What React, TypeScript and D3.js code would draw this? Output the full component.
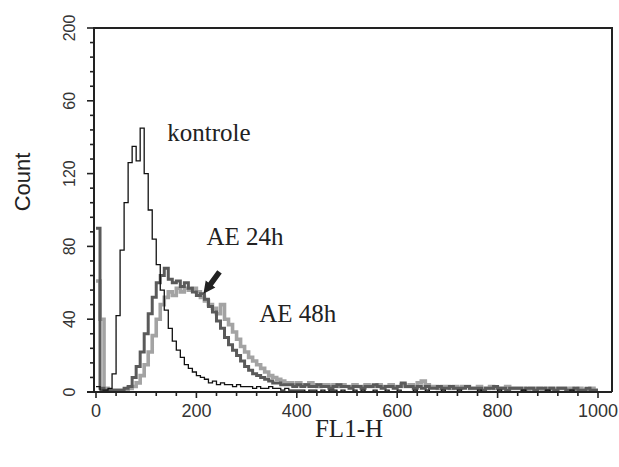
import React from "react";
import * as d3 from "d3";

const binWidth = 8;

const kontrole = [
  3, 1, 1, 2, 10, 42, 78, 104, 126, 135,
  127, 145, 120, 100, 84, 70, 56, 45, 35, 28,
  23, 19, 15, 13, 11, 9, 8, 7, 5, 6,
  4, 5, 4, 4, 3, 4, 3, 3, 3, 2,
  3, 2, 2, 3, 2, 2, 1, 2, 1, 1,
  1, 1, 0, 1, 1, 0, 1, 0, 1, 1, 0, 1, 0, 0, 1, 0, 1, 0, 0, 1,
  0, 0, 1, 0, 0, 1, 0, 0, 0, 1, 0, 0, 1, 0, 0, 0, 1, 0, 0, 0,
  1, 0, 0, 0, 0, 1, 0, 0, 0, 0, 1, 0, 0, 0, 0, 0, 1, 0, 0, 0,
  0, 0, 1, 0, 0, 0, 0, 0, 1, 0, 0, 0, 0, 0, 0,
];

const ae24 = [
  90, 2, 1, 1, 1, 1, 1, 2, 3, 8,
  14, 22, 32, 43, 52, 60, 64, 68, 62, 60,
  61, 58, 60, 57, 55, 53, 54, 51, 47, 44,
  39, 35, 30, 26, 23, 20, 17, 14, 12, 10,
  9, 8, 7, 6, 5, 5, 4, 4, 4, 3,
  4, 3, 4, 3, 3, 4, 3, 3, 2, 3, 4, 3, 3, 2, 3, 3, 2, 3, 3, 4,
  3, 2, 3, 3, 2, 3, 5, 3, 3, 2, 3, 2, 3, 2, 2, 3, 2, 2, 3, 2,
  2, 2, 3, 2, 2, 2, 1, 2, 2, 3, 2, 2, 1, 2, 2, 2, 1, 2, 2, 1,
  2, 2, 1, 2, 1, 2, 2, 1, 1, 2, 1, 1, 2, 1, 1,
];

const ae48 = [
  61, 40, 2, 1, 1, 1, 1, 1, 2, 3,
  5, 9, 15, 22, 31, 40, 48, 52, 55, 53,
  57, 55, 57, 56, 57, 55, 52, 50, 48, 46,
  43, 48, 40, 37, 33, 29, 25, 22, 19, 17,
  15, 13, 11, 9, 8, 7, 6, 5, 5, 4,
  5, 4, 4, 5, 4, 3, 4, 4, 3, 4, 3, 4, 3, 3, 4, 3, 3, 4, 3, 3,
  4, 3, 3, 4, 3, 3, 4, 3, 4, 3, 5, 6, 4, 3, 3, 2, 3, 3, 2, 3,
  2, 3, 3, 2, 2, 3, 2, 2, 3, 2, 2, 2, 3, 2, 2, 2, 2, 1, 2, 2,
  2, 1, 2, 2, 1, 2, 2, 1, 2, 1, 2, 1, 1, 2, 1,
];

const xTickValues = [0, 200, 400, 600, 800, 1000];
const xTickLabels = ["0", "200", "400", "600", "800", "1000"];
const yTickValues = [0, 40, 80, 120, 160, 200];
const yTickLabels = ["0", "40", "80", "120", "60", "200"];

const annotations = [
  { text: "kontrole", x: 142, y: 138 },
  { text: "AE 24h", x: 220, y: 81 },
  { text: "AE 48h", x: 325, y: 38.5 },
];
const arrowTip = { x: 214, y: 54 };
const arrowTail = { x: 246, y: 66 };

const W = 619;
const H = 467;
const left = 94;
const right = 612;
const top = 28;
const bottom = 392;

export default function App() {
  const x = d3.scaleLinear().domain([0, 1000]).range([96, 598]);
  const y = d3.scaleLinear().domain([0, 200]).range([bottom, top]);

  const toPts = (arr: number[]) => {
    const pts: [number, number][] = arr.map((v, i) => [i * binWidth, v]);
    pts.push([arr.length * binWidth, arr[arr.length - 1]]);
    return pts;
  };
  const line = d3
    .line<[number, number]>()
    .x((d) => x(d[0]))
    .y((d) => y(d[1]))
    .curve(d3.curveStepAfter);

  const xMinor = d3.range(0, 1001, 40);
  const yMinor = d3.range(0, 201, 8);

  // arrow geometry
  const tx = x(arrowTip.x), ty = y(arrowTip.y);
  const sx = x(arrowTail.x), sy = y(arrowTail.y);
  const dx = tx - sx, dy = ty - sy;
  const len = Math.hypot(dx, dy);
  const ux = dx / len, uy = dy / len;
  const px = -uy, py = ux;
  const headLen = 12, headW = 6, shaftW = 2.8;
  const bx = tx - ux * headLen, by = ty - uy * headLen;
  const arrowPts = [
    [sx + px * shaftW, sy + py * shaftW],
    [bx + px * shaftW, by + py * shaftW],
    [bx + px * headW, by + py * headW],
    [tx, ty],
    [bx - px * headW, by - py * headW],
    [bx - px * shaftW, by - py * shaftW],
    [sx - px * shaftW, sy - py * shaftW],
  ]
    .map((p) => p.join(","))
    .join(" ");

  return (
    <svg
      width={W}
      height={H}
      style={{ position: "absolute", left: 0, top: 0, background: "#fff" }}
    >
      <rect x={0} y={0} width={W} height={H} fill="#fff" />
      {/* series */}
      <path d={line(toPts(ae48)) || ""} fill="none" stroke="#a3a3a3" strokeWidth={3.6} strokeLinejoin="miter" />
      <path d={line(toPts(ae24)) || ""} fill="none" stroke="#5a5a5a" strokeWidth={3} strokeLinejoin="miter" />
      <path d={line(toPts(kontrole)) || ""} fill="none" stroke="#111" strokeWidth={1.3} />

      {/* frame */}
      <path
        d={`M${left},${bottom}V${top}H${right}V${bottom}`}
        fill="none"
        stroke="#222"
        strokeWidth={2}
      />
      <line x1={87} x2={right} y1={bottom} y2={bottom} stroke="#222" strokeWidth={2} />

      {/* y ticks */}
      {yMinor.map((v) => {
        const major = v % 40 === 0;
        return (
          <line
            key={"ym" + v}
            x1={major ? 87 : 90}
            x2={left}
            y1={y(v)}
            y2={y(v)}
            stroke="#222"
            strokeWidth={1.6}
          />
        );
      })}
      {yTickValues.map((v, i) => (
        <text
          key={"yl" + v}
          transform={`translate(${75},${y(v)}) rotate(-90)`}
          textAnchor="middle"
          fontFamily="Liberation Sans, Arial, sans-serif"
          fontSize={16}
          fill="#333"
        >
          {yTickLabels[i]}
        </text>
      ))}

      {/* x ticks */}
      {xMinor.map((v) => {
        const major = v % 200 === 0;
        return (
          <line
            key={"xm" + v}
            x1={x(v)}
            x2={x(v)}
            y1={bottom}
            y2={bottom + (major ? 6 : 4)}
            stroke="#222"
            strokeWidth={1.6}
          />
        );
      })}
      {xTickValues.map((v, i) => (
        <text
          key={"xl" + v}
          x={x(v)}
          y={417}
          textAnchor="middle"
          fontFamily="Liberation Sans, Arial, sans-serif"
          fontSize={18}
          fill="#333"
        >
          {xTickLabels[i]}
        </text>
      ))}

      {/* axis titles */}
      <text
        transform={`translate(30,${182}) rotate(-90)`}
        textAnchor="middle"
        fontFamily="Liberation Sans, Arial, sans-serif"
        fontSize={22}
        fill="#222"
      >
        Count
      </text>
      <text
        x={349}
        y={437}
        textAnchor="middle"
        fontFamily="Liberation Serif, Times New Roman, serif"
        fontSize={25}
        fill="#222"
      >
        FL1-H
      </text>

      {/* annotations */}
      {annotations.map((a) => (
        <text
          key={a.text}
          x={x(a.x)}
          y={y(a.y)}
          fontFamily="Liberation Serif, Times New Roman, serif"
          fontSize={25}
          fill="#222"
        >
          {a.text}
        </text>
      ))}
      <polygon points={arrowPts} fill="#222" />
    </svg>
  );
}
